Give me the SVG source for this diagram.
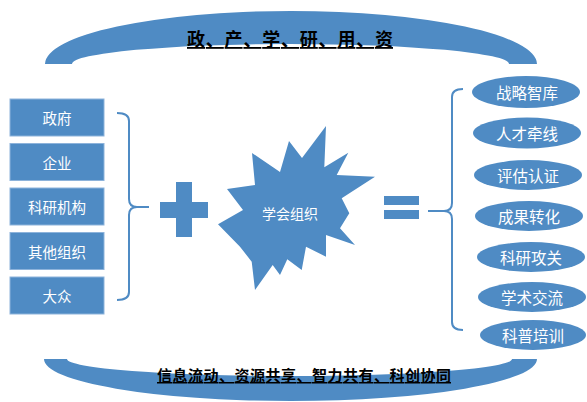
<svg xmlns="http://www.w3.org/2000/svg" width="587" height="402" viewBox="0 0 587 402">
<style>
.shape{fill:#4F8BC4;}
.box{fill:#4F8BC4;stroke:#8DB3DB;stroke-width:1;}
.brace{fill:none;stroke:#4F8BC4;stroke-width:2;}
.wt{fill:#FFFFFF;font-family:"Noto Sans CJK SC",sans-serif;text-anchor:middle;dominant-baseline:central;}
.bt{fill:#000000;font-family:"Noto Sans CJK SC",sans-serif;font-weight:bold;text-anchor:middle;text-decoration:underline;}
</style>
<rect width="587" height="402" fill="#FFFFFF"/>
<g id="top-arc">
<path class="shape" d="M45,64 A246,53 0 0 1 537,64 L509,64 A218.5,20 0 0 0 72,64 Z"/>
<text class="bt" x="290" y="46" font-size="18" textLength="206" lengthAdjust="spacing">政、产、学、研、用、资</text>
</g>
<g id="bottom-arc">
<path class="shape" d="M44,359 A246.5,42 0 0 0 537,359 L512,359 A222.5,17 0 0 1 67,359 Z"/>
<text class="bt" x="304" y="381" font-size="15" textLength="294" lengthAdjust="spacing">信息流动、资源共享、智力共有、科创协同</text>
</g>
<g id="left-nodes">
<g id="n-gov"><rect class="box" x="10" y="99" width="94" height="37"/><text class="wt" x="57" y="117.5" font-size="14.5">政府</text></g>
<g id="n-ent"><rect class="box" x="10" y="143.5" width="94" height="37"/><text class="wt" x="57" y="162" font-size="14.5">企业</text></g>
<g id="n-res"><rect class="box" x="10" y="188" width="94" height="37"/><text class="wt" x="57" y="206.5" font-size="14.5">科研机构</text></g>
<g id="n-oth"><rect class="box" x="10" y="232.5" width="94" height="37"/><text class="wt" x="57" y="251" font-size="14.5">其他组织</text></g>
<g id="n-pub"><rect class="box" x="10" y="277" width="94" height="37"/><text class="wt" x="57" y="295.5" font-size="14.5">大众</text></g>
</g>
<g id="connectors">
<path class="brace" d="M117,113 Q129,113 129,121 L129,199 Q129,207 137,207 L149,207 M137,207 Q129,207 129,215 L129,292 Q129,300 117,300"/>
<path class="brace" d="M463,89 Q452,89 452,97 L452,203 Q452,211 444,211 L428,211 M444,211 Q452,211 452,219 L452,322 Q452,330 463,330"/>
</g>
<g id="plus">
<rect class="shape" x="176" y="182" width="16" height="55"/>
<rect class="shape" x="160" y="202" width="48" height="16"/>
</g>
<g id="society">
<polygon class="shape" points="326,126 324.3,167.3 348.3,152.7 336.7,175 375,176.7 341.7,198.3 349.3,213.3 340,228.3 355,245 326,235 326,256.7 306,246.7 301.7,270 287.3,259.3 280,275 272.7,265 255,290 251.7,261.7 240,246.7 218,224.3 243,210 227,189 255,185 252,153 280,172 289,141 302,158"/>
<text class="wt" x="290" y="213" font-size="14">学会组织</text>
</g>
<g id="equals">
<rect class="shape" x="384" y="196" width="35" height="9"/>
<rect class="shape" x="384" y="210" width="35" height="9"/>
</g>
<g id="right-nodes">
<g id="r1"><ellipse class="shape" cx="526" cy="92" rx="54" ry="16"/><text class="wt" x="527" y="92" font-size="15.5">战略智库</text></g>
<g id="r2"><ellipse class="shape" cx="527" cy="133" rx="54" ry="15.5"/><text class="wt" x="527" y="133" font-size="15.5">人才牵线</text></g>
<g id="r3"><ellipse class="shape" cx="528" cy="175" rx="54" ry="15"/><text class="wt" x="528" y="175" font-size="15.5">评估认证</text></g>
<g id="r4"><ellipse class="shape" cx="529" cy="216" rx="54" ry="15"/><text class="wt" x="529" y="216" font-size="15.5">成果转化</text></g>
<g id="r5"><ellipse class="shape" cx="531" cy="257" rx="54" ry="15"/><text class="wt" x="531" y="257" font-size="15.5">科研攻关</text></g>
<g id="r6"><ellipse class="shape" cx="532" cy="297" rx="54" ry="15"/><text class="wt" x="532" y="297" font-size="15.5">学术交流</text></g>
<g id="r7"><ellipse class="shape" cx="533" cy="335" rx="53" ry="15"/><text class="wt" x="533" y="335" font-size="15.5">科普培训</text></g>
</g>
</svg>
